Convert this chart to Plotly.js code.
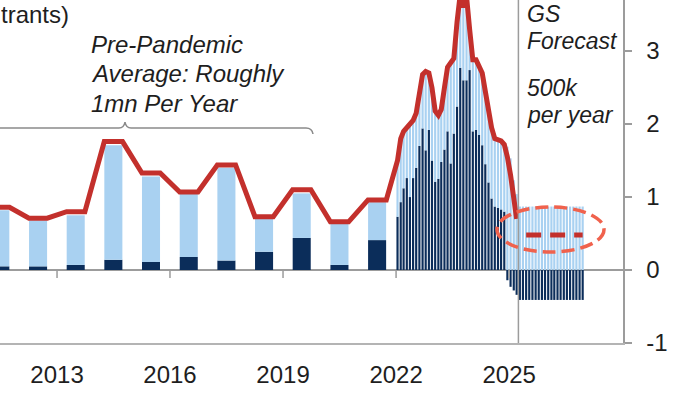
<!DOCTYPE html>
<html><head><meta charset="utf-8">
<script src="https://cdn.plot.ly/plotly-3.0.1.min.js"></script>
<style>html,body{margin:0;padding:0;background:#fff;overflow:hidden}#chart{width:700px;height:394px}</style>
</head><body><div id="chart"></div>
<script>
// ---- data (mn people, annual rate) ----
const years = [2011,2012,2013,2014,2015,2016,2017,2018,2019,2020,2021];
const annualNavy  = [0.05,0.05,0.07,0.14,0.11,0.18,0.13,0.25,0.44,0.07,0.41];
const annualLight = [0.77,0.63,0.68,1.57,1.17,0.87,1.27,0.45,0.61,0.57,0.52];
const annualTotal = [0.86,0.71,0.80,1.76,1.33,1.07,1.44,0.73,1.10,0.66,0.96];

const monthsActual = ['2022-01','2022-02','2022-03','2022-04','2022-05','2022-06','2022-07','2022-08','2022-09','2022-10','2022-11','2022-12',
  '2023-01','2023-02','2023-03','2023-04','2023-05','2023-06','2023-07','2023-08','2023-09','2023-10','2023-11','2023-12',
  '2024-01','2024-02','2024-03','2024-04','2024-05','2024-06','2024-07','2024-08','2024-09','2024-10','2024-11','2024-12',
  '2025-01','2025-02','2025-03'];
const monthlyNavy  = [0.73,0.93,1.12,1.26,1.00,1.26,1.40,1.70,1.94,1.64,1.92,1.50,
  1.21,1.25,1.48,1.65,1.90,1.46,1.87,2.24,2.77,2.60,2.60,2.74,
  1.90,1.92,1.85,1.71,1.45,1.20,0.98,0.87,0.85,0.83,0.80,-0.14,
  -0.23,-0.28,-0.34];
const monthlyLight = [0.77,0.87,0.78,0.69,1.02,0.79,0.75,0.75,0.74,1.08,0.78,1.00,
  0.97,0.87,0.72,0.85,0.88,1.38,1.03,1.16,1.01,1.00,1.15,0.56,
  0.98,0.96,0.95,0.99,1.00,1.00,0.97,0.93,0.93,0.94,0.92,1.69,
  1.53,1.23,1.04];
const monthlyTotal = [1.50,1.80,1.90,1.95,2.02,2.05,2.15,2.45,2.68,2.72,2.70,2.50,
  2.18,2.12,2.20,2.50,2.78,2.84,2.90,3.40,3.78,3.60,3.75,3.30,
  2.88,2.88,2.80,2.70,2.45,2.20,1.95,1.80,1.78,1.77,1.72,1.55,
  1.30,0.95,0.70];

const monthsForecast = ['2025-04','2025-05','2025-06','2025-07','2025-08','2025-09','2025-10','2025-11','2025-12',
  '2026-01','2026-02','2026-03','2026-04','2026-05','2026-06','2026-07','2026-08','2026-09','2026-10','2026-11','2026-12'];
const forecastNavy  = [-0.41,-0.41,-0.41,-0.41,-0.41,-0.41,-0.41,-0.41,-0.41,-0.41,-0.41,-0.41,-0.41,-0.41,-0.41,-0.41,-0.41,-0.41,-0.41,-0.41,-0.41];
const forecastLight = [0.87,0.87,0.87,0.87,0.87,0.87,0.87,0.87,0.87,0.87,0.87,0.87,0.87,0.87,0.87,0.87,0.87,0.87,0.87,0.87,0.87];
const forecastTotal = [0.48,0.48,0.48,0.48,0.48,0.48,0.48,0.48,0.48,0.48,0.48,0.48,0.48,0.48,0.48,0.48,0.48,0.48,0.48,0.48,0.48];

const tickYears = [2013,2016,2019,2022,2025];
const yTickVals = [-1,0,1,2,3];
const yTickText = ['-1','0','1','2','3'];
const forecastStart = '2025-04-01';

// ---- styling ----
const NAVY = '#0b2d5a', LIGHT = '#a9d1f1', RED = '#c3302c', ELLIPSE = '#f0624d', GRAY = '#9c9c9c';
const FONT = 'Liberation Sans, Arial, sans-serif';
const DAY = 86400000;
const W = 700, H = 394, ML = 0, MR = 77, MT = 0, MB = 51;
const plotW = W - ML - MR, plotH = H - MT - MB;
const px = x => (x - ML) / plotW;
const py = y => (H - MB - y) / plotH;

const annualX = years.map(y => y + '-07-01');
const monthX = monthsActual.map(m => m + '-15');
const fcX = monthsForecast.map(m => m + '-15');

// red line: flat across each annual bar, then monthly points
const lineX = [], lineY = [];
years.forEach((y, i) => { lineX.push(y + '-04-04', y + '-09-28'); lineY.push(annualTotal[i], annualTotal[i]); });
monthX.forEach((x, i) => { lineX.push(x); lineY.push(monthlyTotal[i]); });

const traces = [
  {type:'bar', x: annualX, y: annualNavy, width: 175*DAY, marker:{color:NAVY}, hoverinfo:'skip'},
  {type:'bar', x: annualX, y: annualLight, width: 175*DAY, marker:{color:LIGHT}, hoverinfo:'skip'},
  {type:'bar', x: monthX, y: monthlyNavy, width: 21*DAY, marker:{color:NAVY}, hoverinfo:'skip'},
  {type:'bar', x: monthX, y: monthlyLight, width: 21*DAY, marker:{color:LIGHT}, hoverinfo:'skip'},
  {type:'bar', x: fcX, y: forecastNavy, width: 21*DAY, marker:{color:NAVY}, hoverinfo:'skip'},
  {type:'bar', x: fcX, y: forecastLight, width: 21*DAY, marker:{color:LIGHT}, hoverinfo:'skip'},
  {type:'scatter', mode:'lines', x: lineX, y: lineY, line:{color:RED, width:5}, hoverinfo:'skip'},
  {type:'scatter', mode:'lines', x: fcX.slice(2), y: forecastTotal.slice(2), line:{color:RED, width:5, dash:'15px,9px'}, hoverinfo:'skip'}
];

const shapes = [
  {type:'line', xref:'x', yref:'paper', x0:forecastStart, x1:forecastStart, y0:0, y1:1, line:{color:GRAY, width:1.5}},
  {type:'circle', xref:'paper', yref:'paper', x0:px(497), x1:px(604), y0:py(252), y1:py(207), line:{color:ELLIPSE, width:3.5, dash:'13px,6px'}},
  {type:'path', xref:'paper', yref:'paper', line:{color:'#8a8a8a', width:1.5},
   path:`M ${px(0)},${py(128)} L ${px(119)},${py(128)} Q ${px(124)},${py(128)} ${px(125)},${py(122)} Q ${px(126)},${py(128)} ${px(131)},${py(128)} L ${px(306)},${py(128)} Q ${px(312)},${py(128)} ${px(313)},${py(134)}`}
];
tickYears.forEach(y => shapes.push({type:'line', xref:'x', yref:'y', x0:y+'-01-01', x1:y+'-01-01', y0:0, y1:-0.11, line:{color:GRAY, width:1.5}}));

const txt = (t, x, y, size, italic) => ({xref:'paper', yref:'paper', x:px(x), y:py(y), xanchor:'left', yanchor:'middle', showarrow:false,
  text: italic ? '<i>' + t + '</i>' : t, font:{family:FONT, size:size, color:'#1e1e1e'}});

const annotations = [
  txt('trants)', -1, 14, 24, false),
  txt('Pre-Pandemic', 89, 45, 24, true),
  txt('Average: Roughly', 89, 74, 24, true),
  txt('1mn Per Year', 89, 103, 24, true),
  txt('GS', 525, 14, 23, true),
  txt('Forecast', 525, 41, 23, true),
  txt('500k', 525, 88, 23, true),
  txt('per year', 525, 115, 23, true)
];

const layout = {
  width: W, height: H, margin:{l:ML, r:MR, t:MT, b:MB}, paper_bgcolor:'#fff', plot_bgcolor:'#fff',
  barmode:'relative', showlegend:false,
  xaxis:{type:'date', range:['2011-06-28','2028-01-10'], showgrid:false, zeroline:false,
    showline:true, linecolor:'#b4b4b4', linewidth:2, ticks:'',
    tickvals: tickYears.map(y => y + '-01-01'), ticktext: tickYears.map(String),
    tickfont:{family:FONT, size:24, color:'#1e1e1e'}, ticklabelstandoff:9, fixedrange:true},
  yaxis:{side:'right', range:[-1, 3.7], showgrid:false, zeroline:true, zerolinecolor:GRAY, zerolinewidth:1.5,
    showline:true, linecolor:GRAY, linewidth:1.5, ticks:'outside', ticklen:7, tickwidth:1.5, tickcolor:GRAY,
    tickvals:yTickVals, ticktext:yTickText, tickfont:{family:FONT, size:24, color:'#1e1e1e'}, ticklabelstandoff:10, fixedrange:true},
  shapes: shapes, annotations: annotations
};

Plotly.newPlot('chart', traces, layout, {staticPlot:true, displayModeBar:false});
</script>
</body></html>
